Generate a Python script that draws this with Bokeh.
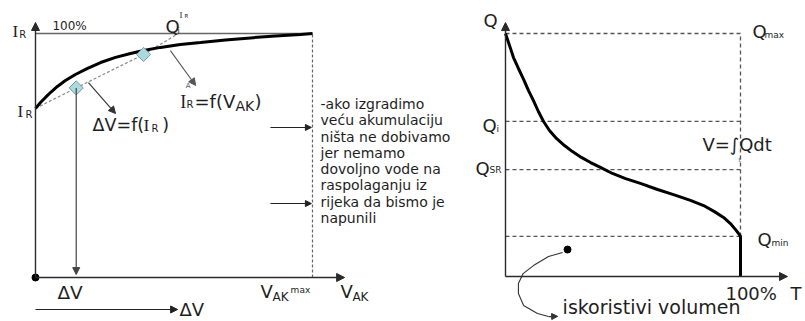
from bokeh.plotting import figure
from bokeh.models import Range1d, Arrow, NormalHead
from bokeh.core.properties import value
from bokeh.embed import file_html
from bokeh.resources import INLINE
import math

# ---------------- left panel: yield I_R against storage V_AK (both in %) ----------------
yield_vak = [0, 1.8, 3.6, 5.4, 7.9, 10.8, 14.4, 18.8, 23.5, 28.9, 34.3, 39.0, 45.1,
             52.3, 59.6, 68.6, 77.6, 86.6, 95.7, 100]
yield_ir = [69.3, 71.7, 73.8, 75.8, 78.3, 80.7, 83.2, 85.7, 88.1, 90.2, 91.8, 93.0, 94.3,
            95.5, 96.3, 97.3, 98.2, 99.0, 99.6, 100]

secant_vak = [0, 14.7, 39.0, 51.6]
secant_ir = [69.3, 77.7, 91.4, 100]

marker_vak = [14.7, 39.0]
marker_ir = [77.7, 91.4]

full_yield = 100      # I_R = 100 %
vak_max = 100         # V_AKmax

note_lines = [
    "-ako izgradimo",
    "veću akumulaciju",
    "ništa ne dobivamo",
    "jer nemamo",
    "dovoljno vode na",
    "raspolaganju iz",
    "rijeka da bismo je",
    "napunili",
]

# ---------------- right panel: flow duration curve, Q (%) against T (%) ----------------
duration_t = [0, 1.7, 3.4, 5.5, 7.7, 9.8, 11.9, 14.0, 16.2, 18.7, 21.7, 25.1, 28.5, 32.3,
              36.2, 40.4, 45.5, 51.1, 57.4, 64.7, 71.5, 78.7, 84.3, 88.9, 92.8, 95.7,
              97.9, 99.1, 100, 100]
duration_q = [100, 95.1, 90.1, 85.6, 81.1, 76.5, 72.4, 67.9, 63.8, 60.1, 56.8, 53.9, 51.4, 49.0,
              46.9, 44.9, 42.4, 40.3, 38.3, 35.8, 33.7, 31.3, 29.2, 26.7, 24.3, 21.8,
              19.3, 17.8, 16.5, 0]

q_max = 100
q_i = 63.8
q_sr = 44.0
q_min = 16.5
t_full = 100

pointer_t = [24.3, 18.3, 11.9, 7.5, 5.5, 5.5, 7.7, 13.6, 18.3]
pointer_q = [9.9, 8.2, 4.5, 1.2, -2.9, -7.0, -11.9, -15.2, -16.5]

TXT = "#1e1e1e"
AX = "#2a2a2a"
GRAY = "#555555"

p = figure(width=805, height=321,
           x_range=Range1d(-12.635, 277.98), y_range=Range1d(-18.03, 113.52),
           output_backend="svg", toolbar_location=None, min_border=0,
           x_axis_location=None, y_axis_location=None)
p.extra_x_ranges = {"t": Range1d(-214.89, 127.66)}
p.extra_y_ranges = {"q": Range1d(-18.52, 113.58)}
p.grid.visible = False
p.outline_line_color = None
p.background_fill_color = "white"
p.border_fill_color = "white"

RIGHT = dict(x_range_name="t", y_range_name="q")
PX_PER_UNIT = {False: 2.44, True: 2.43}


def label(x, y, s, size, font="DejaVu Sans", right=False, color=TXT, align="left"):
    kw = RIGHT if right else {}
    # lift the text so that y is where the letters sit
    lift = 0.32 * size / PX_PER_UNIT[right]
    p.text(x=[x], y=[y + lift], text=[s], text_font=value(font), text_font_size=f"{size}px",
           text_color=color, text_align=align, text_baseline="alphabetic", **kw)


def arrow(x0, y0, x1, y1, color=AX, width=1.2, head=7, right=False):
    kw = RIGHT if right else {}
    p.add_layout(Arrow(end=NormalHead(size=head, fill_color=color, line_color=color, line_width=1),
                       x_start=x0, y_start=y0, x_end=x1, y_end=y1,
                       line_color=color, line_width=width, **kw))


# ---- left panel drawing ----
p.line([0, vak_max], [full_yield, full_yield], line_color="#666666", line_width=1.3)
p.line([vak_max, vak_max], [0, full_yield], line_color="#666666", line_width=1.2, line_dash="3 2")
p.line(secant_vak, secant_ir, line_color="#8a8a8a", line_width=1.2, line_dash="3 2")
p.line(yield_vak, yield_ir, line_color="black", line_width=3)

arrow(0, 0, 0, 104.5, head=8, width=1.4)
arrow(0, 0, 111.6, 0, head=8, width=1.4)
arrow(marker_vak[0], marker_ir[0], marker_vak[0], 1.2, color="#444444", width=1.2)
arrow(19.1, 79.9, 28.9, 67.2, color="#333333", width=1.1)
arrow(48.7, 93.0, 57.8, 78.7, color="#555555", width=1.1)
arrow(84.8, 61.5, 99.6, 61.5, color="#222222", width=1.1, head=6)
arrow(84.8, 30.3, 99.6, 30.3, color="#222222", width=1.1, head=6)
arrow(0, -13.1, 51.3, -13.1, color="#222222", width=1.1, head=7)

p.scatter(marker_vak, marker_ir, marker="square", size=10, angle=math.pi / 4,
          fill_color="#abd9dd", line_color="#6f9fa4", line_width=1)
p.scatter([0], [0], size=7, fill_color="black", line_color="black")

label(6.1, 101.4, "100%", 12)
label(-8.3, 98.4, "I", 17, font="Liberation Serif")
label(-5.9, 98.4, "R", 10)
label(-6.5, 65.6, "I", 17, font="Liberation Serif")
label(-3.6, 65.6, "R", 10)

label(46.9, 100.4, "Q", 18)
label(51.3, 99.8, "i", 8)
label(52.0, 106.6, "I", 9, font="Liberation Serif")
label(53.8, 106.6, "R", 5.5)

label(54.2, 77.5, "A", 7, color="#555555")
label(52.3, 69.7, "I", 18, font="Liberation Serif")
label(54.5, 69.7, "R", 10)
label(57.4, 69.7, "=f(V", 18)
label(72.2, 68.4, "AK", 14)
label(79.1, 69.7, ")", 18)

label(20.6, 60.25, "ΔV=f(", 17.5)
label(39.0, 60.25, "I", 17.5, font="Liberation Serif")
label(41.9, 59.8, "R", 10)
label(45.8, 60.25, ")", 17.5)

label(7.9, -8.6, "ΔV", 18.5)
label(81.2, -8.2, "V", 18)
label(85.6, -9.4, "AK", 12)
label(92.1, -6.1, "max", 9)
label(110.1, -8.2, "V", 18)
label(114.4, -9.4, "AK", 12)
label(52.0, -15.6, "ΔV", 18)

for i, line in enumerate(note_lines):
    label(102.9, 69.3 - i * 6.68, line, 14)

# ---- right panel drawing ----
for q in (q_max, q_i, q_sr, q_min):
    p.line([0, t_full], [q, q], line_color=GRAY, line_width=1.3, line_dash="4 3", **RIGHT)
p.line([t_full, t_full], [q_min, q_max], line_color=GRAY, line_width=1.3, line_dash="4 3", **RIGHT)
p.line(duration_t, duration_q, line_color="black", line_width=3, **RIGHT)

arrow(0, 0, 0, 104.5, head=8, width=1.4, right=True)
arrow(0, 0, 120.0, 0, head=8, width=1.4, right=True)

p.line(pointer_t, pointer_q, line_color="#333333", line_width=1.1, **RIGHT)
arrow(pointer_t[-1], pointer_q[-1], 22.2, -16.4, color="#333333", width=1.1, head=6, right=True)
p.scatter([26.4], [11.1], size=7, fill_color="black", line_color="black", **RIGHT)

label(-9.4, 102.9, "Q", 18, right=True)
label(105.1, 98.4, "Q", 18, right=True)
label(110.2, 98.4, "max", 9, right=True)
label(-9.8, 59.7, "Q", 18, right=True)
label(-3.8, 59.7, "i", 9, right=True)
label(-12.8, 42.0, "Q", 18, right=True)
label(-6.8, 42.8, "SR", 9, right=True)
label(107.2, 12.8, "Q", 18, right=True)
label(113.2, 12.8, "min", 9, right=True)

label(83.8, 51.9, "V=∫Qdt", 18, right=True)
label(99.1, 47.5, "t", 6, right=True, color="#555555")
label(93.6, -9.5, "100%", 18, right=True)
label(121.3, -9.5, "T", 18, right=True)
label(24.3, -15.2, "iskoristivi volumen", 19, right=True)

open("out.html", "w").write(file_html(p, INLINE))
